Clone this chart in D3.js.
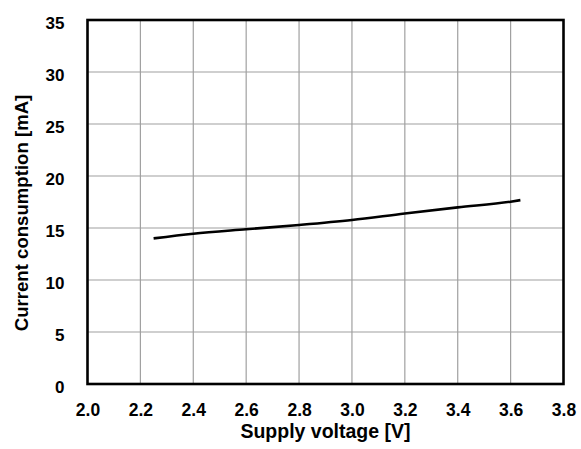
<!DOCTYPE html>
<html>
<head>
<meta charset="utf-8">
<script src="https://cdn.jsdelivr.net/npm/d3@7"></script>
<style>
  html, body { margin: 0; padding: 0; background: #fff; }
  text { font-family: "Liberation Sans", Arial, sans-serif; font-weight: bold; fill: #000; }
</style>
</head>
<body>
<svg id="chart" width="581" height="449"></svg>
<script>
// Supply voltage [V] vs. current consumption [mA]
const voltage = [2.25, 2.4, 2.6, 2.8, 3.0, 3.2, 3.4, 3.6, 3.637];
const current = [14.0, 14.45, 14.88, 15.29, 15.77, 16.4, 16.98, 17.53, 17.68];
const xTicks = [2.0, 2.2, 2.4, 2.6, 2.8, 3.0, 3.2, 3.4, 3.6, 3.8];
const yTicks = [0, 5, 10, 15, 20, 25, 30, 35];

const svg = d3.select("#chart");
const plot = { left: 87.5, right: 563.5, top: 20, bottom: 384 };

const x = d3.scaleLinear().domain([2.0, 3.8]).range([plot.left, plot.right]);
const y = d3.scaleLinear().domain([0, 35]).range([plot.bottom, plot.top]);

// grid
const grid = svg.append("g");
grid.selectAll("line.v").data(xTicks.slice(1, -1)).join("line")
  .attr("x1", d => x(d)).attr("x2", d => x(d))
  .attr("y1", plot.top).attr("y2", plot.bottom)
  .attr("stroke", "#a0a0a0").attr("stroke-width", 1.2);
grid.selectAll("line.h").data(yTicks.slice(1, -1)).join("line")
  .attr("x1", plot.left).attr("x2", plot.right)
  .attr("y1", d => y(d)).attr("y2", d => y(d))
  .attr("stroke", "#a0a0a0").attr("stroke-width", 1.2);

// data line
const line = d3.line().x((d, i) => x(voltage[i])).y(d => y(d)).curve(d3.curveMonotoneX);
svg.append("path").datum(current)
  .attr("d", line)
  .attr("fill", "none").attr("stroke", "#000").attr("stroke-width", 2.6);

// frame
svg.append("rect")
  .attr("x", plot.left).attr("y", plot.top)
  .attr("width", plot.right - plot.left).attr("height", plot.bottom - plot.top)
  .attr("fill", "none").attr("stroke", "#000").attr("stroke-width", 2.6);

// axes labels
const xAxis = d3.axisBottom(x).tickValues(xTicks).tickFormat(d3.format(".1f")).tickSize(0).tickPadding(0);
const gx = svg.append("g").attr("transform", `translate(0,${plot.bottom})`).call(xAxis);
gx.select(".domain").remove();
gx.selectAll("text").attr("y", 32).attr("dy", null)
  .style("font-size", "17.5px").style("font-family", "'Liberation Sans', Arial, sans-serif").style("font-weight", "bold").attr("fill", "#000");

const yAxis = d3.axisLeft(y).tickValues(yTicks).tickFormat(d3.format("d")).tickSize(0).tickPadding(0);
const gy = svg.append("g").attr("transform", `translate(${plot.left},0)`).call(yAxis);
gy.select(".domain").remove();
gy.selectAll("text").attr("x", -23).attr("dy", "0.52em")
  .style("font-size", "17px").style("font-family", "'Liberation Sans', Arial, sans-serif").style("font-weight", "bold").attr("fill", "#000");

// titles
svg.append("text")
  .attr("x", (plot.left + plot.right) / 2).attr("y", 438)
  .attr("text-anchor", "middle").style("font-size", "19.5px")
  .text("Supply voltage [V]");
svg.append("text")
  .attr("transform", "translate(28,213) rotate(-90)")
  .attr("text-anchor", "middle").style("font-size", "18.6px")
  .text("Current consumption [mA]");
</script>
</body>
</html>
